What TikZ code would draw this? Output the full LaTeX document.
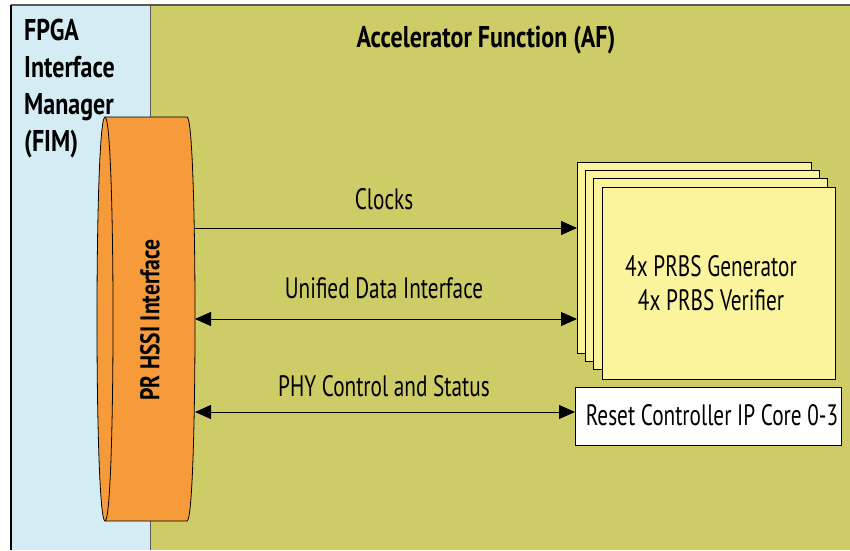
\documentclass[tikz,border=0pt]{standalone}
\usepackage{fontspec}
\setmainfont{PT Sans}
\newfontfamily\cond[FakeStretch=0.72]{PT Sans}
\newfontfamily\condb[FakeStretch=0.8]{PT Sans Bold}
\usetikzlibrary{arrows.meta}
\definecolor{fimblue}{HTML}{D4ECF4}
\definecolor{afolive}{HTML}{CDCC66}
\definecolor{hssiorange}{HTML}{F79A3A}
\definecolor{prbsyellow}{HTML}{FBF49C}
\tikzset{
  lbl/.style={font=\cond\fontsize{29.5}{34}\selectfont, inner sep=0pt},
  boldlbl/.style={font=\condb\fontsize{30}{37}\selectfont, inner sep=0pt},
  conn/.style={line width=0.8pt, -{Triangle[length=16pt,width=14pt]}},
  biconn/.style={line width=0.8pt, {Triangle[length=16pt,width=14pt]}-{Triangle[length=16pt,width=14pt]}},
  prbs/.style={draw=black, line width=0.8pt, fill=prbsyellow},
}
\begin{document}
\begin{tikzpicture}[x=1pt,y=-1pt]
\useasboundingbox (0,0) rectangle (850,550);
% panels
\fill[fimblue] (11,5) rectangle (150,550);
\fill[afolive] (150,5) rectangle (850,550);
\draw[gray!70!black, line width=0.8pt] (150,5) -- (150,550);
\draw[gray!70!black, line width=1.6pt] (11,5) -- (850,5);
\draw[black, line width=1.2pt] (11,5) -- (11,550);
% panel titles
\node[boldlbl, anchor=north west, align=left] (fim) at (24,19) {FPGA\\Interface\\Manager\\(FIM)};
\node[boldlbl] (af) at (486,40) {Accelerator Function (AF)};
% PR HSSI interface drum
\filldraw[fill=hssiorange, draw=black, line width=0.8pt]
  (105,117) .. controls (94.3,117) and (94.3,521) .. (105,521)
  -- (187,521) .. controls (197.7,521) and (197.7,117) .. (187,117) -- cycle;
\draw[black, line width=0.8pt] (105,117) .. controls (115.7,117) and (115.7,521) .. (105,521);
\node[font=\condb\fontsize{27}{30}\selectfont, inner sep=0pt, rotate=90] (hssi) at (150,320) {PR HSSI Interface};
\coordinate (c1) at (195,228);
\coordinate (c2) at (195,319);
\coordinate (c3) at (195,412);
% stacked PRBS boxes
\draw[prbs] (577,162) rectangle (811,353);
\draw[prbs] (585,170) rectangle (819,361);
\draw[prbs] (593,178) rectangle (827,369);
\node[prbs, minimum width=233pt, minimum height=192pt, anchor=north west, inner sep=0pt] (prbs) at (602,187) {};
\node[lbl, align=center] (prbstxt) at (711,283) {4x PRBS Generator\\4x PRBS Verifier};
\coordinate (p1) at (577,228);
\coordinate (p2) at (577,319);
% reset controller
\node[draw=black, line width=0.8pt, fill=white, minimum width=266pt, minimum height=58pt, anchor=north west, inner sep=0pt] (rst) at (575,387) {};
\node[lbl] (rsttxt) at (712,415) {Reset Controller IP Core 0-3};
% connectors
\draw[conn] (c1) -- (p1);
\draw[biconn] (c2) -- (p2);
\draw[biconn] (c3) -- (c3 -| rst.west);
\node[lbl] (l1) at (384,199) {Clocks};
\node[lbl] (l2) at (384,288) {Unified Data Interface};
\node[lbl] (l3) at (384,386) {PHY Control and Status};
\end{tikzpicture}
\end{document}
